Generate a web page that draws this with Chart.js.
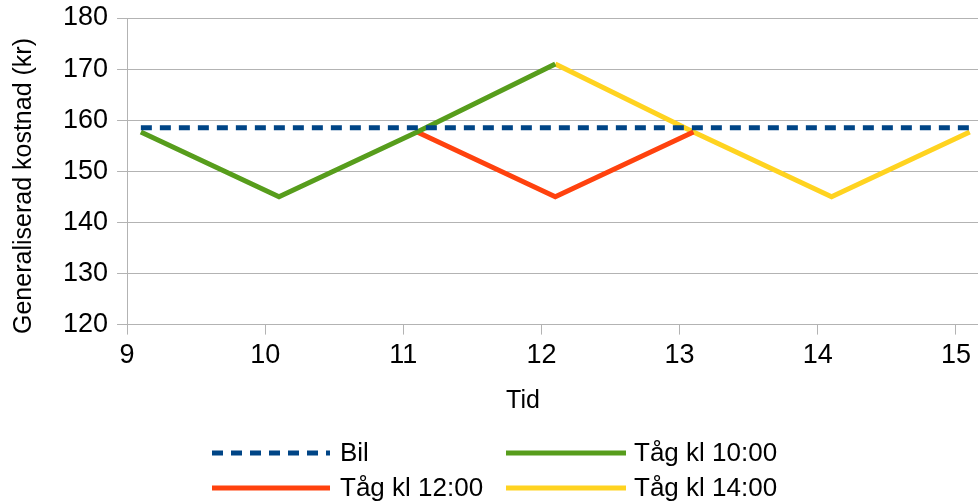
<!DOCTYPE html>
<html lang="sv">
<head>
<meta charset="utf-8">
<title>Generaliserad kostnad</title>
<script src="https://cdn.jsdelivr.net/npm/chart.js@4/dist/chart.umd.min.js"></script>
<style>
  html, body { margin: 0; padding: 0; background: #ffffff; }
  #wrap { width: 978px; height: 502px; position: relative; }
</style>
</head>
<body>
<div id="wrap"><canvas id="chart" width="978" height="502"></canvas></div>
<script>
// Tid (klockslag) and generaliserad kostnad i kronor
const bilX   = [9.1, 15.1];
const bilY   = [158.5, 158.5];
const tag10X = [9.1, 10.1, 11.1, 12.1];
const tag10Y = [157.7, 145, 157.7, 171];
const tag12X = [11.1, 12.1, 13.1];
const tag12Y = [157.7, 145, 157.7];
const tag14X = [12.1, 13.1, 14.1, 15.1];
const tag14Y = [171, 157.7, 145, 157.7];

const xTicks = [9, 10, 11, 12, 13, 14, 15];
const yTicks = [120, 130, 140, 150, 160, 170, 180];

const seriesNames = ['Bil', 'Tåg kl 10:00', 'Tåg kl 12:00', 'Tåg kl 14:00'];
const xTitle = 'Tid';
const yTitle = 'Generaliserad kostnad (kr)';

const pts = (xs, ys) => xs.map((x, i) => ({ x: x, y: ys[i] }));

const FONT = "'Liberation Sans', Arial, sans-serif";
const GRID = '#b3b3b3';

// Axis titles and the two-column legend, drawn on the canvas
const decorations = {
  id: 'decorations',
  afterDraw(chart) {
    const ctx = chart.ctx;
    ctx.save();
    ctx.fillStyle = '#000000';

    // x title
    ctx.font = '25px ' + FONT;
    ctx.textAlign = 'center';
    ctx.textBaseline = 'middle';
    ctx.fillText(xTitle, 523, 401);

    // y title
    ctx.save();
    ctx.translate(24, 186);
    ctx.rotate(-Math.PI / 2);
    ctx.fillText(yTitle, 0, 0);
    ctx.restore();

    // legend
    const cols = [{ x0: 212, x1: 330, tx: 340 }, { x0: 506, x1: 626, tx: 634 }];
    const rows = [453, 488];
    ctx.font = '26px ' + FONT;
    ctx.textAlign = 'left';
    chart.data.datasets.forEach((ds, i) => {
      const c = cols[i % 2];
      const y = rows[Math.floor(i / 2)];
      ctx.save();
      ctx.strokeStyle = ds.borderColor;
      ctx.lineWidth = ds.borderWidth;
      ctx.lineCap = 'butt';
      ctx.setLineDash(ds.borderDash || []);
      ctx.beginPath();
      ctx.moveTo(c.x0, y);
      ctx.lineTo(c.x1, y);
      ctx.stroke();
      ctx.restore();
      ctx.fillText(ds.label, c.tx, y + 1);
    });
    ctx.restore();
  }
};

new Chart(document.getElementById('chart'), {
  type: 'line',
  data: {
    datasets: [
      { label: seriesNames[0], data: pts(bilX, bilY), borderColor: '#004586', borderWidth: 5, borderDash: [11, 8] },
      { label: seriesNames[1], data: pts(tag10X, tag10Y), borderColor: '#579d1c', borderWidth: 5 },
      { label: seriesNames[2], data: pts(tag12X, tag12Y), borderColor: '#ff420e', borderWidth: 5 },
      { label: seriesNames[3], data: pts(tag14X, tag14Y), borderColor: '#ffd320', borderWidth: 5 }
    ]
  },
  options: {
    responsive: false,
    animation: false,
    events: [],
    elements: {
      point: { radius: 0 },
      line: { tension: 0, borderCapStyle: 'butt', borderJoinStyle: 'miter', fill: false }
    },
    layout: { padding: { left: 54, right: 0, top: 0, bottom: 125 } },
    plugins: { legend: { display: false }, tooltip: { enabled: false } },
    scales: {
      x: {
        type: 'linear',
        min: 9,
        max: 15.16,
        afterBuildTicks: (scale) => { scale.ticks = xTicks.map(v => ({ value: v })); },
        ticks: { color: '#000000', font: { family: FONT, size: 27 }, padding: 5, maxRotation: 0 },
        grid: { drawOnChartArea: false, drawTicks: true, tickLength: 10, color: GRID, lineWidth: 1 },
        border: { display: true, color: GRID, width: 1 },
        title: { display: false }
      },
      y: {
        type: 'linear',
        min: 120,
        max: 180,
        afterBuildTicks: (scale) => { scale.ticks = yTicks.map(v => ({ value: v })); },
        ticks: { color: '#000000', font: { family: FONT, size: 27, lineHeight: 0.667 }, padding: 9 },
        grid: { drawTicks: true, tickLength: 10, color: GRID, lineWidth: 1 },
        border: { display: true, color: GRID, width: 1 },
        title: { display: false }
      }
    }
  },
  plugins: [decorations]
});
</script>
</body>
</html>
